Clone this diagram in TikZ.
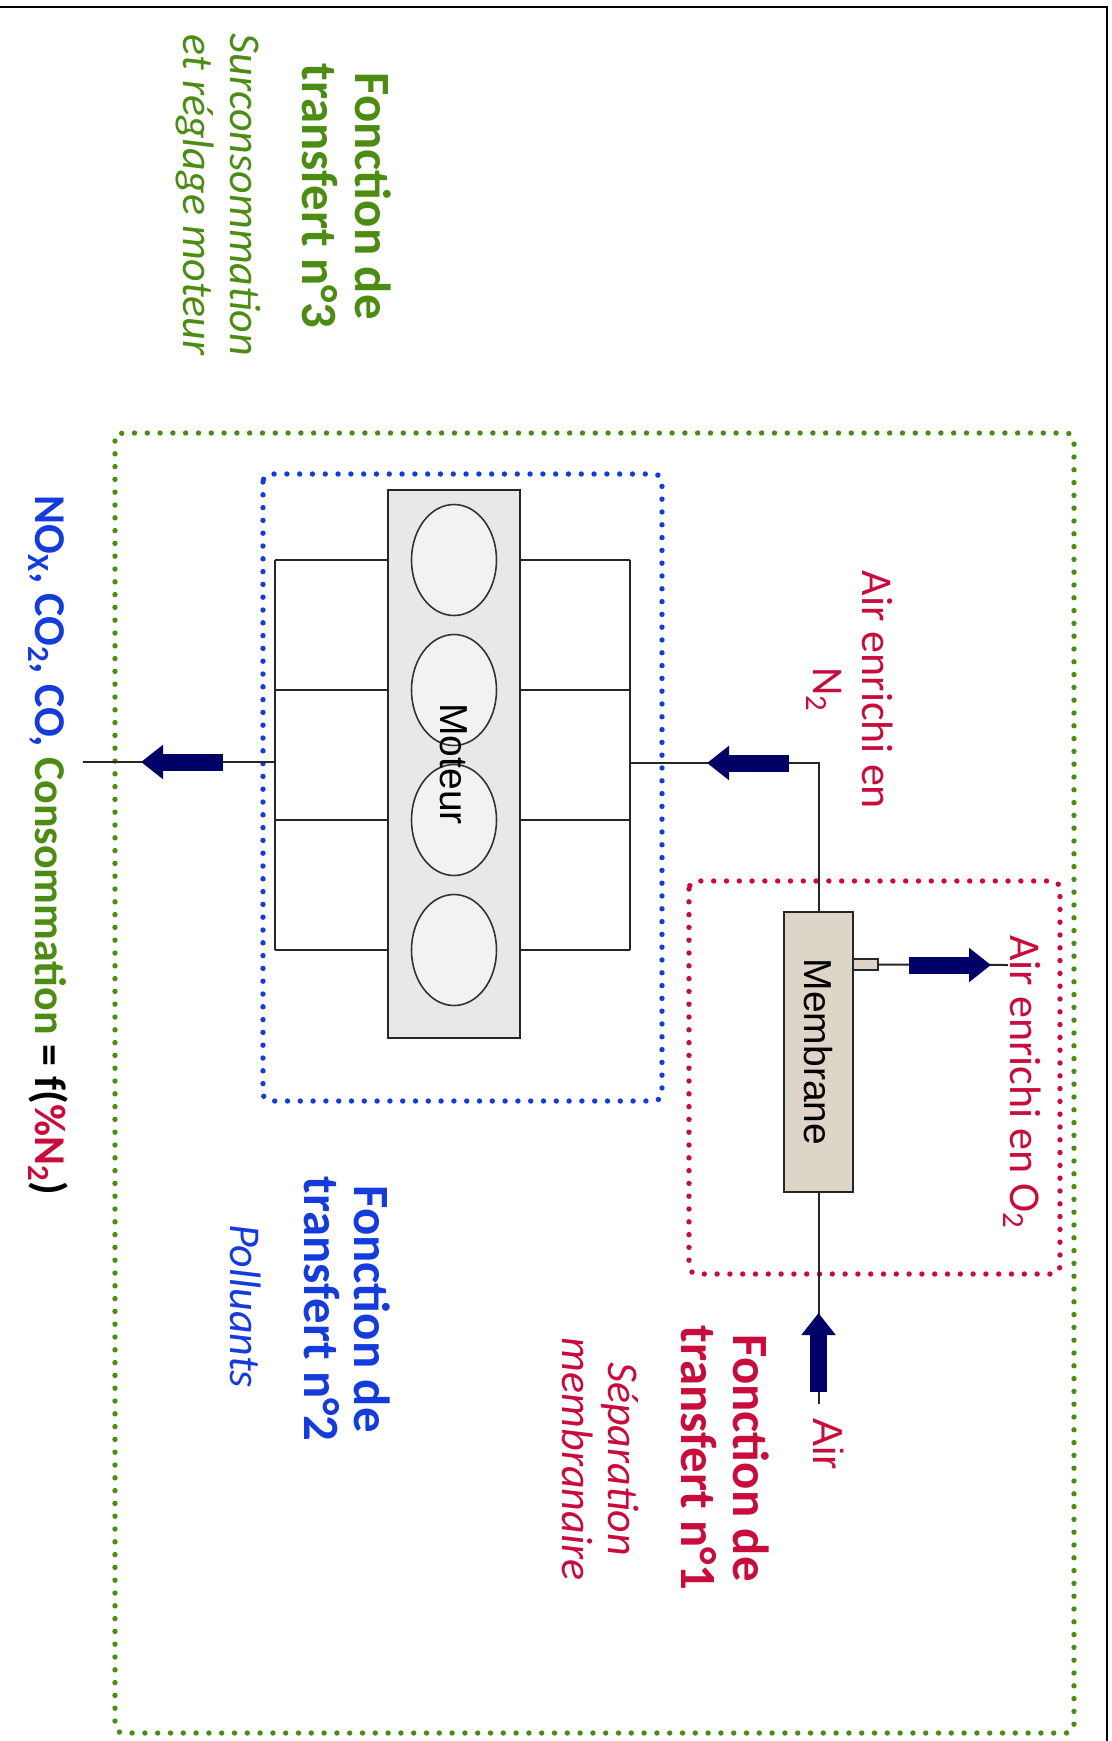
\documentclass[tikz,border=0pt]{standalone}
\usepackage{fontspec}
\setmainfont{Carlito}
\newfontfamily\arialfont{Liberation Sans}
\usetikzlibrary{shapes.geometric,arrows.meta,calc}
\definecolor{vertfct}{RGB}{76,140,18}
\definecolor{rougefct}{RGB}{200,12,60}
\definecolor{bleufct}{RGB}{20,60,220}
\definecolor{marine}{RGB}{0,0,102}
\definecolor{gris}{RGB}{232,232,232}
\definecolor{beige}{RGB}{221,214,200}

\begin{document}
\begin{tikzpicture}[x=0.5pt,y=-0.5pt,
  pointille/.style={line width=2.7pt, line cap=round, dash pattern=on 0pt off 6.4pt, rounded corners=4pt},
  tuyau/.style={draw=black!85, line width=1pt},
  bloc/.style={draw=black!85, line width=1.2pt, inner sep=0pt},
  cylindre/.style={ellipse, draw=black!80, line width=0.8pt, fill=black!5, minimum width=42.5pt, minimum height=55.5pt, inner sep=0pt},
  grosfleche/.style={draw=marine, line width=8.5pt, -{Triangle[length=11pt,width=16.5pt]}},
  titre/.style={rotate=-90, anchor=base, inner sep=0pt, font=\fontsize{25.4pt}{30pt}\selectfont\bfseries},
  texte/.style={rotate=-90, anchor=base, inner sep=0pt, font=\fontsize{22pt}{26pt}\selectfont},
  sstitre/.style={texte, font=\fontsize{22pt}{26pt}\selectfont\itshape},
  boxtxt/.style={rotate=-90, inner sep=0pt, font=\arialfont\fontsize{19.5pt}{23pt}\selectfont},
]
\useasboundingbox (0,0) rectangle (1112,1741);
\draw[line width=1pt] (0,7) -- (1107,7) -- (1107,1741);

% cadres des fonctions de transfert
\draw[pointille, vertfct] (115,433) rectangle (1074,1733);
\draw[pointille, bleufct] (263,474) rectangle (662,1101);
\draw[pointille, rougefct] (689,881) rectangle (1060,1274);

% moteur
\node[bloc, fill=gris, minimum width=66pt, minimum height=274pt] (moteur) at (454,764) {};
\foreach \y [count=\i] in {560,690,820,950} {
  \node[cylindre] (cyl\i) at (454,\y) {};
  \coordinate (echap\i) at (275,\y);
  \coordinate (adm\i) at (630,\y);
  \draw[tuyau] (moteur.west |- cyl\i) -- (echap\i);
  \draw[tuyau] (moteur.east |- cyl\i) -- (adm\i);
}
\node[boxtxt] (moteurtxt) at (moteur.center) {Moteur};
\draw[tuyau] (echap1) -- (echap4);
\draw[tuyau] (adm1) -- (adm4);

% membrane
\node[bloc, fill=beige, minimum width=34.5pt, minimum height=140pt] (membrane) at (818.5,1052) {};
\node[boxtxt] (membranetxt) at (membrane.center) {Membrane};
\node[bloc, fill=beige, line width=0.8pt, minimum width=12.5pt, minimum height=5.5pt] (piquage) at (865.5,964.5) {};

% circuits
\coordinate (coude) at (818.5,763);
\coordinate (entree) at (630,763);
\coordinate (echsort) at (275,762);
\coordinate (echfin) at (83,762);
\coordinate (o2fin) at (1008,965);
\coordinate (airdeb) at (818.5,1404);
\draw[tuyau] (membrane.north) -- (coude) -- (entree);
\draw[tuyau] (echsort) -- (echfin);
\draw[tuyau] (piquage.east) -- (o2fin);
\draw[tuyau] (airdeb) -- (membrane.south);

% grosses fleches
\coordinate (fadm1) at (789,763);  \coordinate (fadm2) at (707,763);
\coordinate (fech1) at (223,762);  \coordinate (fech2) at (141,762);
\coordinate (fo21) at (909,965);   \coordinate (fo22) at (991,965);
\coordinate (fair1) at (818.5,1392); \coordinate (fair2) at (818.5,1313);
\draw[grosfleche] (fadm1) -- (fadm2);
\draw[grosfleche] (fech1) -- (fech2);
\draw[grosfleche] (fo21) -- (fo22);
\draw[grosfleche] (fair1) -- (fair2);

% textes
\node[titre, vertfct] (t3a) at (355,196) {Fonction de};
\node[titre, vertfct] (t3b) at (302,196) {transfert n°3};
\node[sstitre, vertfct] (s3a) at (230,195) {Surconsommation};
\node[sstitre, vertfct] (s3b) at (183,195) {et réglage moteur};

\node[texte, rougefct] (n2a) at (862,690) {Air enrichi en};
\node[texte, rougefct] (n2b) at (813,690) {N\textsubscript{2}};
\node[texte, rougefct, anchor=base west] (o2) at (1010,935) {Air enrichi en O\textsubscript{2}};
\node[texte, rougefct, anchor=base west, font=\arialfont\fontsize{21pt}{25pt}\selectfont] (air) at (813,1418) {Air};
\node[titre, rougefct] (t1a) at (733,1458) {Fonction de};
\node[titre, rougefct] (t1b) at (681,1458) {transfert n°1};
\node[sstitre, rougefct] (s1a) at (608,1459) {Séparation};
\node[sstitre, rougefct] (s1b) at (562,1459) {membranaire};

\node[titre, bleufct] (t2a) at (354,1309) {Fonction de};
\node[titre, bleufct] (t2b) at (304,1309) {transfert n°2};
\node[sstitre, bleufct] (s2) at (230,1306) {Polluants};

\node[texte, anchor=base west, font=\fontsize{22pt}{26pt}\selectfont\bfseries] (bilan) at (35,495)
  {\textcolor{bleufct}{NO\textsubscript{X}, CO\textsubscript{2}, CO,} \textcolor{vertfct}{Consommation} = f(\textcolor{rougefct}{\%N\textsubscript{2}})};
\end{tikzpicture}
\end{document}
